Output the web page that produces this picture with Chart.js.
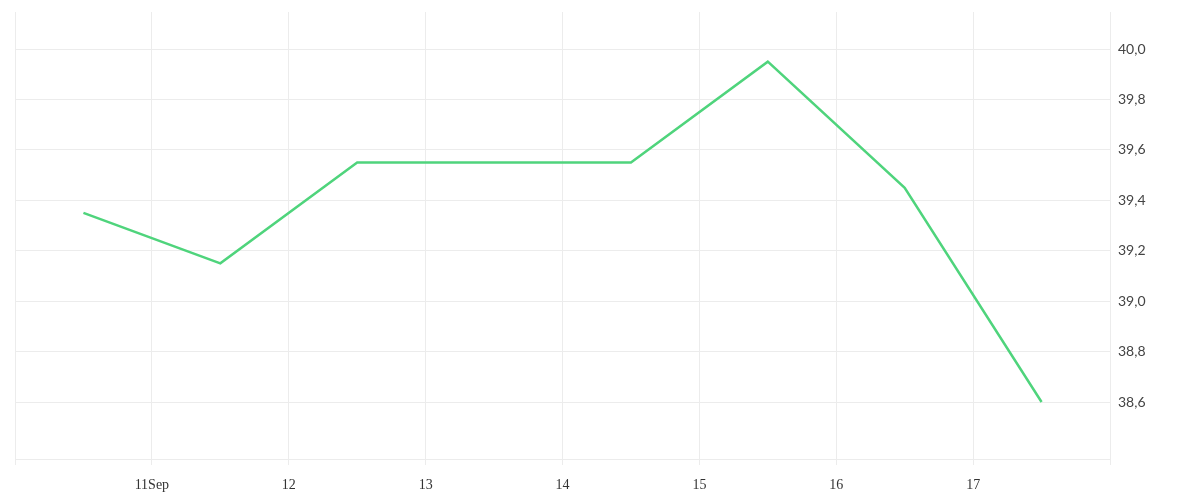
<!DOCTYPE html>
<html>
<head>
<meta charset="utf-8">
<script src="https://cdn.jsdelivr.net/npm/chart.js@4/dist/chart.umd.min.js"></script>
<style>
  html, body { margin: 0; padding: 0; background: #fff; }
  #wrap { width: 1200px; height: 500px; position: relative; }
</style>
</head>
<body>
<div id="wrap"><canvas id="chart"></canvas></div>
<script>
// day positions (points sit at mid-day) and values
const days = [10.5, 11.5, 12.5, 13.5, 14.5, 15.5, 16.5, 17.5];
const values = [39.35, 39.15, 39.55, 39.55, 39.55, 39.95, 39.45, 38.6];
const yTicks = [38.6, 38.8, 39.0, 39.2, 39.4, 39.6, 39.8, 40.0];
const xTicks = [10, 11, 12, 13, 14, 15, 16, 17, 18];
const xLabels = { 11: '11Sep', 12: '12', 13: '13', 14: '14', 15: '15', 16: '16', 17: '17' };

const grid = '#ececec';

new Chart(document.getElementById('chart'), {
  type: 'line',
  data: {
    datasets: [{
      data: days.map((d, i) => ({ x: d, y: values[i] })),
      borderColor: '#4fd47c',
      borderWidth: 2.5,
      pointRadius: 0,
      tension: 0,
      fill: false
    }]
  },
  options: {
    responsive: true,
    maintainAspectRatio: false,
    animation: false,
    layout: { padding: { top: 12, left: 15, right: 0, bottom: 0 } },
    plugins: { legend: { display: false }, tooltip: { enabled: false } },
    scales: {
      x: {
        type: 'linear',
        min: 10,
        max: 18,
        afterBuildTicks: axis => { axis.ticks = xTicks.map(v => ({ value: v })); },
        afterFit: axis => { axis.height = 41; },
        grid: { color: grid, tickLength: 6, drawTicks: true },
        border: { color: grid },
        ticks: {
          autoSkip: false,
          maxRotation: 0,
          padding: 12,
          color: '#333',
          font: { family: 'Liberation Serif', size: 14 },
          callback: v => xLabels[v] || ''
        }
      },
      y: {
        position: 'right',
        min: 38.374,
        max: 40.147,
        afterBuildTicks: axis => { axis.ticks = yTicks.map(v => ({ value: v })); },
        afterFit: axis => { axis.width = 90; axis.paddingTop = 0; axis.paddingBottom = 0; },
        grid: { color: grid, drawTicks: false },
        border: { color: grid },
        ticks: {
          padding: 8,
          color: '#444',
          font: { family: 'Lato', size: 14, lineHeight: 0.6 },
          callback: v => v.toFixed(1).replace('.', ',')
        }
      }
    }
  }
});
</script>
</body>
</html>
